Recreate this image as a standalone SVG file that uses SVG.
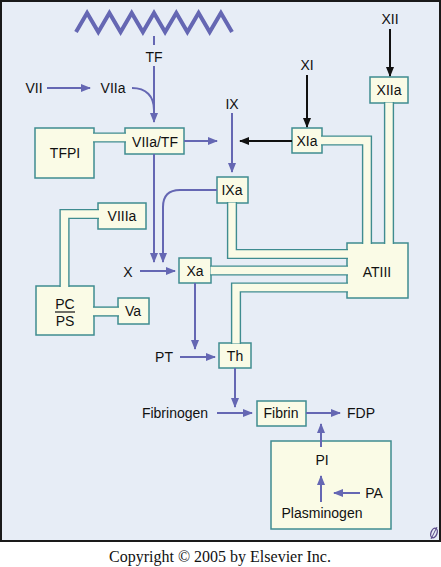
<svg xmlns="http://www.w3.org/2000/svg" width="441" height="567" viewBox="0 0 441 567">
<style>
.box{fill:#fafbe6;stroke:#3f8c90;stroke-width:1.5}
.t{font-family:"Liberation Sans",Arial,sans-serif;font-size:14px;fill:#111;text-anchor:middle}
.pipeo{fill:none;stroke:#3f8c90;stroke-width:10.2;stroke-linejoin:miter}
.pipei{fill:none;stroke:#fafbe6;stroke-width:7.4;stroke-linejoin:miter}
.ab{fill:none;stroke:#6567b3;stroke-width:2;marker-end:url(#mb)}
.ak{fill:none;stroke:#111;stroke-width:2;marker-end:url(#mk)}
.lb{fill:none;stroke:#6567b3;stroke-width:2}
</style>
<defs>
<marker id="mb" markerUnits="userSpaceOnUse" markerWidth="10" markerHeight="8" refX="9" refY="4" orient="auto"><path d="M0,0 L10,4 L0,8 z" fill="#6567b3"/></marker>
<marker id="mk" markerUnits="userSpaceOnUse" markerWidth="10" markerHeight="8" refX="9" refY="4" orient="auto"><path d="M0,0 L10,4 L0,8 z" fill="#111"/></marker>
</defs>
<rect x="0" y="0" width="441" height="567" fill="#ffffff"/>
<rect x="1" y="1" width="439" height="540" fill="#e7edf6" stroke="#1a1a1a" stroke-width="2"/>
<polyline points="76,32 87.1,13 98.3,32 109.4,13 120.6,32 131.7,13 142.9,32 154,13 165.1,32 176.3,13 187.4,32 198.6,13 209.7,32 220.9,13 232,32" fill="none" stroke="#6567b3" stroke-width="4" stroke-linejoin="miter"/>

<g id="n-TFPI"><rect class="box" x="35" y="128" width="59" height="50"/><text class="t" x="65" y="158">TFPI</text></g>
<g id="n-VIIaTF"><rect class="box" x="125" y="128" width="59" height="26"/><text class="t" x="155" y="147">VIIa/TF</text></g>
<g id="n-VIIIa"><rect class="box" x="98" y="203" width="48" height="26"/><text class="t" x="122" y="221">VIIIa</text></g>
<g id="n-PCPS"><rect class="box" x="36" y="286" width="58" height="49"/><text class="t" x="65" y="309">PC</text><line x1="55" y1="312" x2="75" y2="312" stroke="#111" stroke-width="1.2"/><text class="t" x="65" y="326">PS</text></g>
<g id="n-Va"><rect class="box" x="118" y="298" width="31" height="26"/><text class="t" x="133" y="316">Va</text></g>
<g id="n-XIIa"><rect class="box" x="370" y="77" width="38" height="26"/><text class="t" x="389" y="95">XIIa</text></g>
<g id="n-XIa"><rect class="box" x="292" y="128" width="30" height="25"/><text class="t" x="307" y="146">XIa</text></g>
<g id="n-IXa"><rect class="box" x="217" y="177" width="31" height="26"/><text class="t" x="232" y="195">IXa</text></g>
<g id="n-Xa"><rect class="box" x="179" y="258" width="32" height="25"/><text class="t" x="195" y="276">Xa</text></g>
<g id="n-ATIII"><rect class="box" x="347" y="243" width="61" height="55"/><text class="t" x="377" y="277">ATIII</text></g>
<g id="n-Th"><rect class="box" x="219" y="343" width="32" height="25"/><text class="t" x="235" y="361">Th</text></g>
<g id="n-Fibrin"><rect class="box" x="257" y="401" width="49" height="25"/><text class="t" x="281" y="418">Fibrin</text></g>
<g id="n-Plasmin"><rect class="box" x="271" y="441" width="120" height="88"/></g>

<g id="n-TF"><text class="t" x="154" y="62">TF</text></g>
<g id="n-VII"><text class="t" x="34" y="93">VII</text></g>
<g id="n-VIIa"><text class="t" x="113" y="93">VIIa</text></g>
<g id="n-IX"><text class="t" x="232" y="109">IX</text></g>
<g id="n-XI"><text class="t" x="307" y="70">XI</text></g>
<g id="n-XII"><text class="t" x="390" y="24">XII</text></g>
<g id="n-X"><text class="t" x="128" y="277">X</text></g>
<g id="n-PT"><text class="t" x="164" y="362">PT</text></g>
<g id="n-Fibrinogen"><text class="t" x="175" y="418">Fibrinogen</text></g>
<g id="n-FDP"><text class="t" x="361" y="418">FDP</text></g>
<g id="n-PI"><text class="t" x="322" y="465">PI</text></g>
<g id="n-PA"><text class="t" x="374" y="498">PA</text></g>
<g id="n-Plasminogen"><text class="t" x="322" y="518">Plasminogen</text></g>

<g id="connectors">
<g id="pipes">
<path class="pipeo" d="M93,137.5 L126,137.5"/>
<path class="pipeo" d="M99,214 L64.5,214 L64.5,287"/>
<path class="pipeo" d="M93,311.5 L119,311.5"/>
<path class="pipeo" d="M321,140.5 L367,140.5 L367,244"/>
<path class="pipeo" d="M389,102 L389,244"/>
<path class="pipeo" d="M232,202 L232,254 L348,254"/>
<path class="pipeo" d="M210,270.5 L348,270.5"/>
<path class="pipeo" d="M236,344 L236,287.5 L348,287.5"/>
<path class="pipei" d="M92.5,137.5 L126.5,137.5"/>
<path class="pipei" d="M99.5,214 L64.5,214 L64.5,287.5"/>
<path class="pipei" d="M92.5,311.5 L119.5,311.5"/>
<path class="pipei" d="M320.5,140.5 L367,140.5 L367,244.5"/>
<path class="pipei" d="M389,102.5 L389,244.5"/>
<path class="pipei" d="M232,202.5 L232,254 L348.5,254"/>
<path class="pipei" d="M210.5,270.5 L348.5,270.5"/>
<path class="pipei" d="M236,343.5 L236,287.5 L348.5,287.5"/>
</g>
<g id="arrows">
<path class="lb" d="M154,36 L154,45"/>
<path class="ab" d="M47,88 L90,88"/>
<path class="ab" d="M154,66 L154,122"/>
<path class="lb" d="M132,88 C146,88 154,96 154,110"/>
<path class="ab" d="M184,141 L217,141"/>
<path class="ab" d="M232,113 L232,172"/>
<path class="ab" d="M154,154 L154,262"/>
<path class="ab" d="M217,190 L180,190 Q163,190 163,207 L163,262"/>
<path class="ab" d="M140,271 L175,271"/>
<path class="ab" d="M195,283 L195,349"/>
<path class="ab" d="M180,357 L215,357"/>
<path class="ab" d="M235,368 L235,407"/>
<path class="ab" d="M217,413 L252,413"/>
<path class="ab" d="M306,413 L340,413"/>
<path class="ab" d="M321,447 L321,424"/>
<path class="ab" d="M321,502 L321,476"/>
<path class="ab" d="M360,493 L334,493"/>
<path class="ak" d="M390,29 L390,76"/>
<path class="ak" d="M307,75 L307,127"/>
<path class="ak" d="M292,141 L240,141"/>
</g>
</g>
<g id="logo"><ellipse cx="434" cy="533" rx="3" ry="5" fill="none" stroke="#5a4a8a" stroke-width="1.3" transform="rotate(20 434 533)"/><line x1="431" y1="539" x2="437" y2="527" stroke="#5a4a8a" stroke-width="1"/></g>
<text x="220" y="562" font-family="Liberation Serif,'Times New Roman',serif" font-size="16" fill="#111" text-anchor="middle">Copyright © 2005 by Elsevier Inc.</text>
</svg>
